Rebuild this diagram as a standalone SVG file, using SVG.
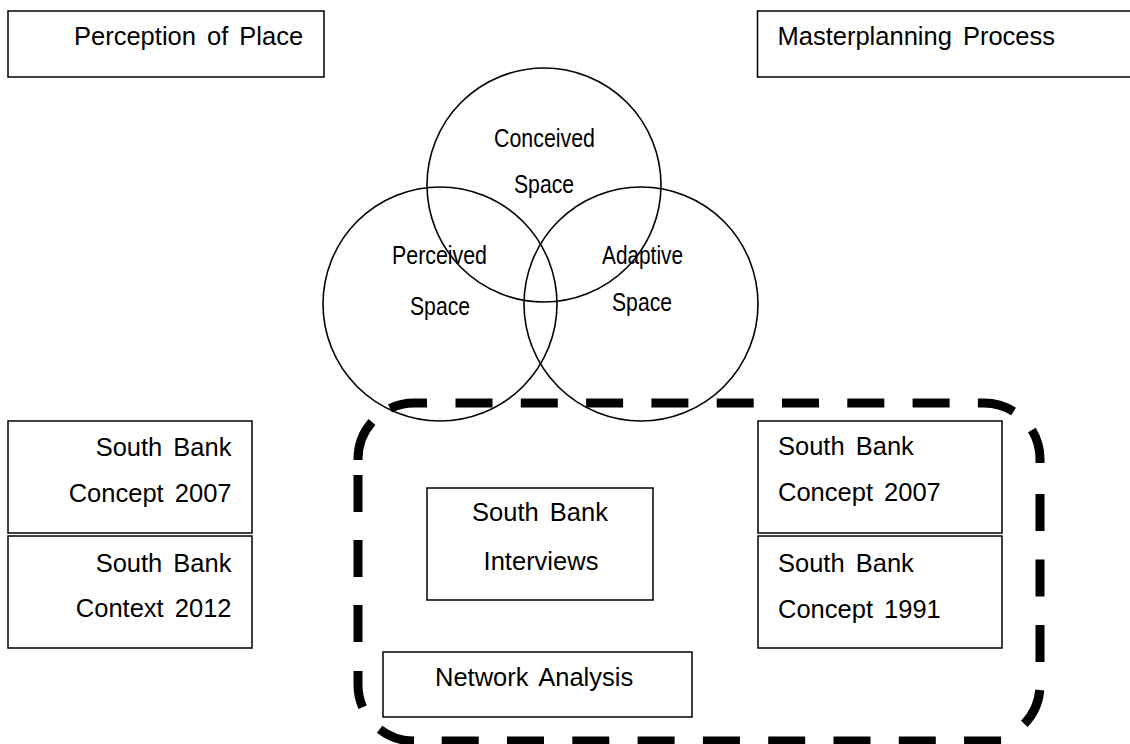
<svg xmlns="http://www.w3.org/2000/svg" width="1130" height="744" viewBox="0 0 1130 744">
  <style>
    .box { fill: #fff; stroke: #000; stroke-width: 1.5; }
    .ring { fill: none; stroke: #000; stroke-width: 1.6; }
    .label { font-family: "Liberation Sans", Arial, sans-serif; font-size: 25.5px; fill: #000; word-spacing: 4px; }
    .venn { font-family: "Liberation Sans", Arial, sans-serif; font-size: 25.5px; fill: #000; }
    .mid { text-anchor: middle; }
    .end { text-anchor: end; }
    .boundary { fill: none; stroke: #000; stroke-width: 9; stroke-linecap: butt; }
  </style>

  <rect width="1130" height="744" fill="#fff"/>

  <!-- heavy dashed rounded boundary, dashes laid out one by one -->
  <g id="connectors">
    <path class="boundary" d="
      M358,460 L358,459 A56,56 0 0 1 372,422
      M390,408.4 A56,56 0 0 1 414,403 H427
      M455.5,403 H492.5 M520.8,403 H557.8 M586.1,403 H623.1 M651.4,403 H688.4
      M716.7,403 H753.7 M782,403 H819 M847.3,403 H884.3 M912.6,403 H949.6
      M977.9,403 H984 A56,56 0 0 1 1013.6,411.5
      M1031.9,430 A56,56 0 0 1 1040,459 V463
      M1040,494 V531 M1040,559.5 V596.5 M1040,625 V662
      M1039.8,690 A56,56 0 0 1 1024.3,723.9
      M1001.1,741 H964.1 M935.8,741 H898.8 M870.5,741 H833.5 M805.2,741 H768.2
      M739.9,741 H702.9 M674.6,741 H637.6 M609.3,741 H572.3 M544,741 H507 M478.7,741 H441.7
      M414,741 A56,56 0 0 1 379.6,729.2
      M358,671 V685 A56,56 0 0 0 362.6,707.3
      M358,642 V605 M358,577 V540 M358,512 V475"/>
  </g>

  <g id="perception-of-place">
    <rect class="box" x="8" y="11" width="316" height="66"/>
    <text class="label" x="74" y="45">Perception of Place</text>
  </g>

  <g id="masterplanning-process">
    <rect class="box" x="757.5" y="11" width="400" height="66"/>
    <text class="label" x="777.5" y="45">Masterplanning Process</text>
  </g>

  <g id="conceived-space">
    <circle class="ring" cx="544" cy="185" r="117"/>
    <text class="venn" x="494" y="147" textLength="101" lengthAdjust="spacingAndGlyphs">Conceived</text>
    <text class="venn" x="514" y="193" textLength="60" lengthAdjust="spacingAndGlyphs">Space</text>
  </g>

  <g id="perceived-space">
    <circle class="ring" cx="440" cy="304" r="117"/>
    <text class="venn" x="392" y="264" textLength="95" lengthAdjust="spacingAndGlyphs">Perceived</text>
    <text class="venn" x="410" y="315" textLength="60" lengthAdjust="spacingAndGlyphs">Space</text>
  </g>

  <g id="adaptive-space">
    <circle class="ring" cx="641" cy="304" r="117"/>
    <text class="venn" x="602" y="264" textLength="81" lengthAdjust="spacingAndGlyphs">Adaptive</text>
    <text class="venn" x="612" y="311" textLength="60" lengthAdjust="spacingAndGlyphs">Space</text>
  </g>

  <g id="left-concept-2007">
    <rect class="box" x="8" y="421" width="244" height="112"/>
    <text class="label end" x="231.5" y="456">South Bank</text>
    <text class="label end" x="231.5" y="501.5">Concept 2007</text>
  </g>

  <g id="left-context-2012">
    <rect class="box" x="8" y="536" width="244" height="112"/>
    <text class="label end" x="231.5" y="571.5">South Bank</text>
    <text class="label end" x="231.5" y="616.5">Context 2012</text>
  </g>

  <g id="interviews">
    <rect class="box" x="427" y="488" width="226" height="112"/>
    <text class="label mid" x="540" y="521">South Bank</text>
    <text class="label mid" x="541" y="570">Interviews</text>
  </g>

  <g id="network-analysis">
    <rect class="box" x="383" y="652" width="309" height="65"/>
    <text class="label" x="435" y="686">Network Analysis</text>
  </g>

  <g id="right-concept-2007">
    <rect class="box" x="758" y="421" width="244" height="112"/>
    <text class="label" x="778" y="455">South Bank</text>
    <text class="label" x="778" y="501">Concept 2007</text>
  </g>

  <g id="right-concept-1991">
    <rect class="box" x="758" y="536" width="244" height="112"/>
    <text class="label" x="778" y="571.5">South Bank</text>
    <text class="label" x="778" y="617.5">Concept 1991</text>
  </g>
</svg>
